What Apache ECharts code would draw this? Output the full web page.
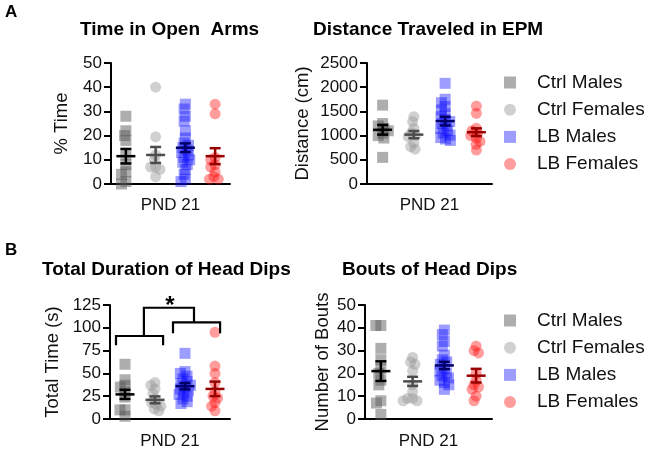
<!DOCTYPE html>
<html>
<head>
<meta charset="UTF-8" />
<title>EPM</title>
<script src="https://cdn.jsdelivr.net/npm/echarts@6.0.0/dist/echarts.min.js"></script>
<style>
  html, body { margin: 0; padding: 0; background: #fff; }
  #chart { width: 649px; height: 451px; }
</style>
</head>
<body>
<div id="chart"></div>
<script>
// groups (x categories)
var groups = ['Ctrl Males', 'Ctrl Females', 'LB Males', 'LB Females'];

// A: time in open arms (% time)
var openCtrlM = [28, 22, 20, 18, 12, 8, 5, 4, 1, 0];
var openCtrlF = [40, 19.5, 12, 10, 7, 7, 6, 3];
var openLbM = [33, 31, 28, 26, 22, 19, 17, 16, 15, 14, 13, 12, 11, 10, 9, 8, 6, 4, 2, 1];
var openLbF = [33, 29, 11, 10, 8, 7, 5, 3, 2, 2];
var openMean = [11.5, 12, 15, 11.5];
var openSem = [3, 3.3, 1.8, 3.3];

// A: distance traveled (cm)
var distCtrlM = [1630, 1250, 1200, 1150, 1100, 1050, 1000, 950, 550];
var distCtrlF = [1390, 1290, 1150, 1060, 1000, 980, 850, 770, 720];
var distLbM = [2080, 1750, 1680, 1600, 1530, 1450, 1390, 1330, 1290, 1250, 1200, 1150, 1100, 1050, 1010, 960, 930, 900];
var distLbF = [1610, 1460, 1150, 1100, 1050, 1000, 950, 880, 820, 700];
var distMean = [1120, 1020, 1300, 1070];
var distSem = [100, 75, 90, 80];

// B: total duration of head dips (s)
var durCtrlM = [60, 43, 37, 35, 30, 24, 10, 10, 3];
var durCtrlF = [40, 37, 33, 28, 22, 18, 16, 14, 11, 9];
var durLbM = [72, 52, 50, 47, 44, 41, 39, 37, 35, 33, 31, 29, 27, 25, 22, 19, 17];
var durLbF = [95, 58, 50, 40, 30, 25, 23, 18, 14, 9];
var durMean = [27, 21, 36, 33];
var durSem = [5, 3.8, 3.5, 8];

// B: bouts of head dips
var boutCtrlM = [41, 41, 31, 26, 22, 20, 17, 15, 8, 7, 2];
var boutCtrlF = [27, 25, 24, 21, 15, 12, 9, 9, 8, 8];
var boutLbM = [39, 37, 34, 32, 28, 26, 25, 24, 22, 21, 20, 19, 18, 17, 16, 15, 13];
var boutLbF = [32, 30, 29, 20, 17, 15, 14, 13, 10, 8];
var boutMean = [21, 16.5, 23.5, 19];
var boutSem = [4.3, 2, 1.6, 3];

var font = 'Liberation Sans, Arial, sans-serif';
var markerColors = ['rgba(85,85,85,0.6)', 'rgba(157,157,157,0.6)', 'rgba(10,10,255,0.5)', 'rgba(255,10,10,0.5)'];
var meanColors = ['#000000', '#4d4d4d', '#000066', '#990000'];
var square = 'path://M0,0H10V10H0Z';
var symbols = [square, 'circle', square, 'circle'];

var myChart = echarts.init(document.getElementById('chart'));

var grids = [], xAxes = [], yAxes = [], series = [];

function addPanel(box, yMax, yStep, yName, nameGap, sets, means, sems) {
  var i = grids.length;
  grids.push({left: box[0], top: box[1], width: box[2], height: box[3], containLabel: false});
  xAxes.push({
    gridIndex: i, type: 'category', data: groups,
    name: 'PND 21', nameLocation: 'middle', nameGap: box[4],
    nameTextStyle: {fontSize: 17, color: '#111', fontFamily: font},
    jitter: 22, jitterOverlap: false, jitterMargin: -6,
    axisLine: {lineStyle: {color: '#000', width: 2}},
    axisTick: {show: false}, axisLabel: {show: false}, splitLine: {show: false}
  });
  yAxes.push({
    gridIndex: i, type: 'value', min: 0, max: yMax, interval: yStep,
    name: yName, nameLocation: 'middle', nameGap: nameGap, nameRotate: 90,
    nameTextStyle: {fontSize: 18.5, color: '#111', fontFamily: font},
    axisLine: {show: true, lineStyle: {color: '#000', width: 2}},
    axisTick: {show: true, length: 7, lineStyle: {color: '#000', width: 2}},
    axisLabel: {fontSize: 17, color: '#111', fontFamily: font, margin: 9,
      formatter: function (v) { return String(v); }},
    splitLine: {show: false}
  });
  sets.forEach(function (vals, g) {
    series.push({
      type: 'scatter', name: groups[g], xAxisIndex: i, yAxisIndex: i,
      symbol: symbols[g], symbolSize: 11, symbolKeepAspect: true,
      itemStyle: {color: markerColors[g]},
      data: vals.map(function (v) { return [g, v]; }),
      z: 2
    });
  });
  series.push({
    type: 'custom', xAxisIndex: i, yAxisIndex: i, z: 5,
    data: means.map(function (m, g) { return [g, m, sems[g]]; }),
    renderItem: function (params, api) {
      var g = api.value(0), m = api.value(1), s = api.value(2);
      var c = api.coord([g, m]);
      var hi = api.coord([g, m + s])[1], lo = api.coord([g, m - s])[1];
      var st = {stroke: meanColors[g], lineWidth: 2.5};
      return {type: 'group', children: [
        {type: 'line', shape: {x1: c[0] - 9.5, y1: c[1], x2: c[0] + 9.5, y2: c[1]}, style: st},
        {type: 'line', shape: {x1: c[0], y1: hi, x2: c[0], y2: lo}, style: st},
        {type: 'line', shape: {x1: c[0] - 5.5, y1: hi, x2: c[0] + 5.5, y2: hi}, style: st},
        {type: 'line', shape: {x1: c[0] - 5.5, y1: lo, x2: c[0] + 5.5, y2: lo}, style: st}
      ]};
    }
  });
}

addPanel([111, 63, 119, 121, 13], 50, 10, '% Time', 40,
  [openCtrlM, openCtrlF, openLbM, openLbF], openMean, openSem);
addPanel([367, 63, 125, 121, 13], 2500, 500, 'Distance (cm)', 55,
  [distCtrlM, distCtrlF, distLbM, distLbF], distMean, distSem);
addPanel([110, 305, 120, 121, 14], 125, 25, 'Total Time (s)', 48,
  [durCtrlM, durCtrlF, durLbM, durLbF], durMean, durSem);
addPanel([365, 305, 127, 121, 14], 50, 10, 'Number of Bouts', 33,
  [boutCtrlM, boutCtrlF, boutLbM, boutLbF], boutMean, boutSem);

// significance bracket (LB vs Ctrl) on the head-dip duration panel
// x given in category units (fractions allowed), y in axis units
series.push({
  type: 'custom', xAxisIndex: 2, yAxisIndex: 2, z: 6, clip: false,
  data: [[0]],
  renderItem: function (params, api) {
    var band = api.size([1, 0])[0];
    function p(x, y) { var b = api.coord([0, y]); return [b[0] + x * band, b[1]]; }
    var st = {stroke: '#000', lineWidth: 2.2, fill: null};
    var l1 = p(-0.3, 81), l2 = p(-0.3, 91), l3 = p(1.27, 91), l4 = p(1.27, 81);
    var r1 = p(1.6, 94), r2 = p(1.6, 106), r3 = p(3.17, 106), r4 = p(3.17, 94);
    var t1 = p(0.63, 91), t2 = p(0.63, 122), t3 = p(2.3, 122), t4 = p(2.3, 106);
    var s = p(1.5, 124);
    return {type: 'group', children: [
      {type: 'polyline', shape: {points: [l1, l2, l3, l4]}, style: st},
      {type: 'polyline', shape: {points: [r1, r2, r3, r4]}, style: st},
      {type: 'polyline', shape: {points: [t1, t2, t3, t4]}, style: st},
      {type: 'text', x: s[0], y: s[1], style: {text: '*', fontSize: 24, fontWeight: 'bold',
        fontFamily: font, fill: '#000', align: 'center', verticalAlign: 'middle'}}
    ]};
  }
});

function legendAt(top) {
  return {
    left: 504, top: top, orient: 'vertical', selectedMode: false, padding: 0,
    itemWidth: 44, itemHeight: 12, itemGap: 8.2, symbolKeepAspect: true,
    textStyle: {fontSize: 19, color: '#111', fontFamily: font, lineHeight: 18},
    data: groups.map(function (g, k) { return {name: g, icon: symbols[k]}; })
  };
}

function title(text, left, top, size) {
  return {text: text, left: left, top: top, padding: 0,
    textStyle: {fontSize: size, fontWeight: 'bold', color: '#000', fontFamily: font}};
}

myChart.setOption({
  animation: false,
  backgroundColor: '#fff',
  title: [
    title('A', 5, 4, 17),
    title('Time in Open  Arms', 80, 20, 19),
    title('Distance Traveled in EPM', 313, 20, 19),
    title('B', 5, 242, 17),
    title('Total Duration of Head Dips', 42, 260, 19),
    title('Bouts of Head Dips', 342, 260, 19)
  ],
  legend: [legendAt(73), legendAt(311)],
  grid: grids,
  xAxis: xAxes,
  yAxis: yAxes,
  series: series
});
</script>
</body>
</html>
